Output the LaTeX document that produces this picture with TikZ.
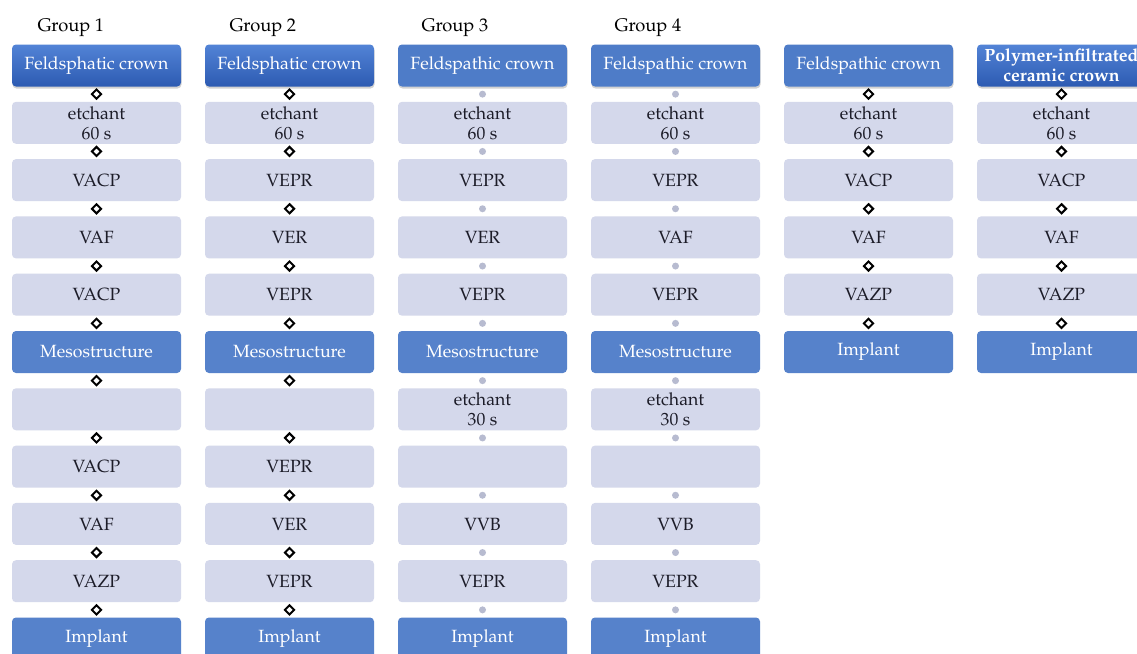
\documentclass[tikz,border=0pt]{standalone}
\usepackage[T1]{fontenc}
\usepackage{mathpazo}
\usetikzlibrary{shapes.geometric,shadows}
\definecolor{lightbox}{HTML}{D4D8EB}
\definecolor{darkbox}{HTML}{5682CB}
\definecolor{flattop}{HTML}{4E7CC8}
\definecolor{gradtop}{HTML}{5283D6}
\definecolor{gradbot}{HTML}{2D5BB2}
\definecolor{txtdark}{HTML}{1C1C28}
\definecolor{dotgray}{HTML}{B7BBD0}
\tikzset{
  base/.style={rectangle, rounded corners=4pt, minimum width=169pt, minimum height=42pt,
    inner sep=1pt, align=center, font=\fontsize{17.7}{20}\selectfont},
  lightb/.style={base, fill=lightbox, text=txtdark},
  darkb/.style={base, fill=darkbox, text=white},
  topflat/.style={base, fill=flattop, text=white,
    drop shadow={opacity=0.35, shadow xshift=0.5pt, shadow yshift=-2pt}},
  topgrad/.style={base, top color=gradtop, bottom color=gradbot, text=white,
    drop shadow={opacity=0.35, shadow xshift=0.5pt, shadow yshift=-2pt}},
  diam/.style={diamond, draw=black, fill=white, line width=2pt, minimum size=10pt, inner sep=0pt},
  gdot/.style={circle, fill=dotgray, minimum size=7pt, inner sep=0pt},
  grp/.style={font=\fontsize{18.3}{20}\selectfont, text=black, anchor=west}
}
\newcommand\mkbox[5]{\node[#4] (#1) at ({96.5+193*#2},{65.5+57.3*#3}) {#5};}
\begin{document}
\begin{tikzpicture}[x=1pt,y=-1pt]
\fill[white] (0,0) rectangle (1137,653);
\useasboundingbox (0,0) rectangle (1137,653);
% group labels
\node[grp] (g1) at (34,28) {Group 1};
\node[grp] (g2) at (226,28) {Group 2};
\node[grp] (g3) at (418,28) {Group 3};
\node[grp] (g4) at (611,28) {Group 4};
% column 0
\mkbox{a0}{0}{0}{topgrad}{Feldsphatic crown}
\mkbox{a1}{0}{1}{lightb}{etchant\\60 s}
\mkbox{a2}{0}{2}{lightb}{VACP}
\mkbox{a3}{0}{3}{lightb}{VAF}
\mkbox{a4}{0}{4}{lightb}{VACP}
\mkbox{a5}{0}{5}{darkb}{Mesostructure}
\mkbox{a6}{0}{6}{lightb}{}
\mkbox{a7}{0}{7}{lightb}{VACP}
\mkbox{a8}{0}{8}{lightb}{VAF}
\mkbox{a9}{0}{9}{lightb}{VAZP}
\mkbox{a10}{0}{10}{darkb}{Implant}
% column 1
\mkbox{b0}{1}{0}{topgrad}{Feldsphatic crown}
\mkbox{b1}{1}{1}{lightb}{etchant\\60 s}
\mkbox{b2}{1}{2}{lightb}{VEPR}
\mkbox{b3}{1}{3}{lightb}{VER}
\mkbox{b4}{1}{4}{lightb}{VEPR}
\mkbox{b5}{1}{5}{darkb}{Mesostructure}
\mkbox{b6}{1}{6}{lightb}{}
\mkbox{b7}{1}{7}{lightb}{VEPR}
\mkbox{b8}{1}{8}{lightb}{VER}
\mkbox{b9}{1}{9}{lightb}{VEPR}
\mkbox{b10}{1}{10}{darkb}{Implant}
% column 2
\mkbox{c0}{2}{0}{topflat}{Feldspathic crown}
\mkbox{c1}{2}{1}{lightb}{etchant\\60 s}
\mkbox{c2}{2}{2}{lightb}{VEPR}
\mkbox{c3}{2}{3}{lightb}{VER}
\mkbox{c4}{2}{4}{lightb}{VEPR}
\mkbox{c5}{2}{5}{darkb}{Mesostructure}
\mkbox{c6}{2}{6}{lightb}{etchant\\30 s}
\mkbox{c7}{2}{7}{lightb}{}
\mkbox{c8}{2}{8}{lightb}{VVB}
\mkbox{c9}{2}{9}{lightb}{VEPR}
\mkbox{c10}{2}{10}{darkb}{Implant}
% column 3
\mkbox{d0}{3}{0}{topflat}{Feldspathic crown}
\mkbox{d1}{3}{1}{lightb}{etchant\\60 s}
\mkbox{d2}{3}{2}{lightb}{VEPR}
\mkbox{d3}{3}{3}{lightb}{VAF}
\mkbox{d4}{3}{4}{lightb}{VEPR}
\mkbox{d5}{3}{5}{darkb}{Mesostructure}
\mkbox{d6}{3}{6}{lightb}{etchant\\30 s}
\mkbox{d7}{3}{7}{lightb}{}
\mkbox{d8}{3}{8}{lightb}{VVB}
\mkbox{d9}{3}{9}{lightb}{VEPR}
\mkbox{d10}{3}{10}{darkb}{Implant}
% column 4
\mkbox{e0}{4}{0}{topflat}{Feldspathic crown}
\mkbox{e1}{4}{1}{lightb}{etchant\\60 s}
\mkbox{e2}{4}{2}{lightb}{VACP}
\mkbox{e3}{4}{3}{lightb}{VAF}
\mkbox{e4}{4}{4}{lightb}{VAZP}
\mkbox{e5}{4}{5}{darkb}{Implant}
% column 5
\mkbox{f0}{5}{0}{topgrad}{\bfseries Polymer-infiltrated\\\bfseries ceramic crown}
\mkbox{f1}{5}{1}{lightb}{etchant\\60 s}
\mkbox{f2}{5}{2}{lightb}{VACP}
\mkbox{f3}{5}{3}{lightb}{VAF}
\mkbox{f4}{5}{4}{lightb}{VAZP}
\mkbox{f5}{5}{5}{darkb}{Implant}
% connectors
\foreach \col/\mk/\n in {a/diam/9, b/diam/9, c/gdot/9, d/gdot/9, e/diam/4, f/diam/4}{
  \foreach \i in {0,...,\n}{
    \pgfmathtruncatemacro\j{\i+1}
    \path (\col\i.south) -- node[\mk]{} (\col\j.north);
  }
}
\end{tikzpicture}
\end{document}
